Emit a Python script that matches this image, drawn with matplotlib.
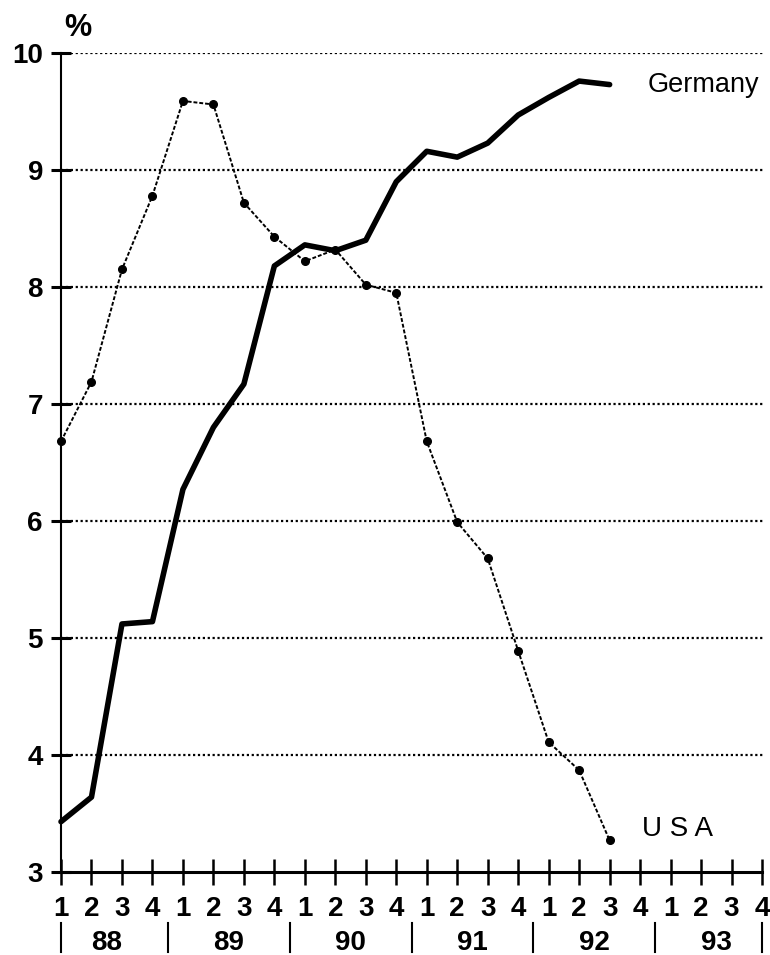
import matplotlib.pyplot as plt
from matplotlib import transforms

# quarterly values, 88Q1 .. 92Q3
germany = [3.43, 3.64, 5.12, 5.14, 6.27, 6.80, 7.17, 8.18,
           8.36, 8.31, 8.40, 8.90, 9.16, 9.11, 9.23, 9.47,
           9.62, 9.76, 9.73]
usa = [6.68, 7.19, 8.15, 8.78, 9.59, 9.56, 8.72, 8.43,
       8.22, 8.32, 8.02, 7.95, 6.68, 5.99, 5.68, 4.89,
       4.11, 3.87, 3.27]
quarter_labels = ['1', '2', '3', '4'] * 6
years = ['88', '89', '90', '91', '92', '93']
year_centers = [1.5, 5.5, 9.5, 13.5, 17.5, 21.5]
year_seps = [0, 3.5, 7.5, 11.5, 15.5, 19.5, 23]
yticks = [3, 4, 5, 6, 7, 8, 9, 10]

plt.rcParams['font.family'] = ['Liberation Sans', 'DejaVu Sans']

fig = plt.figure(figsize=(7.7, 9.55), dpi=100)
ax = fig.add_axes([61 / 770, 83 / 955, (765 - 61) / 770, 819 / 955])

# dotted gridlines
for v in yticks[1:]:
    ax.axhline(v, color='black', lw=1.6, ls=(0, (1, 1.2)), zorder=1)

ax.plot(range(len(germany)), germany, color='black', lw=4.0, solid_capstyle='round',
        solid_joinstyle='round', zorder=3, clip_on=False)
ax.plot(range(len(usa)), usa, color='black', lw=1.4, ls=(0, (2, 1)),
        marker='o', ms=5.5, zorder=3, clip_on=False)

ax.set_xlim(0, (765 - 61) / 30.48)
ax.set_ylim(3, 10)

for s in ['top', 'right']:
    ax.spines[s].set_visible(False)
ax.spines['left'].set_linewidth(1.5)
ax.spines['bottom'].set_linewidth(2.2)
ax.spines['bottom'].set_bounds(0, 23)

ax.set_xticks(range(24))
ax.set_xticklabels(quarter_labels, fontsize=20, fontweight='bold')
ax.set_yticks(yticks)
ax.set_yticklabels([str(v) for v in yticks], fontsize=20, fontweight='bold')
ax.tick_params(axis='x', direction='inout', length=19, width=1.8, pad=8)
ax.tick_params(axis='y', direction='inout', length=14, width=2.2, pad=6)

trans = transforms.blended_transform_factory(ax.transData, ax.transAxes)
for c, yr in zip(year_centers, years):
    ax.text(c, -0.087, yr, transform=trans, ha='center', va='center',
            fontsize=20, fontweight='bold')
for s in year_seps:
    ax.plot([s, s], [-0.062, -0.098], transform=trans, color='black',
            lw=1.5, clip_on=False)

ax.text(0.1, 10.21, '%', ha='left', va='center', fontsize=22,
        fontweight='bold', clip_on=False)
ax.text(19.23, 9.73, 'Germany', ha='left', va='center', fontsize=19.5)
ax.text(19.06, 3.37, 'U S A', ha='left', va='center', fontsize=20)

plt.savefig('out.png', dpi=100)
